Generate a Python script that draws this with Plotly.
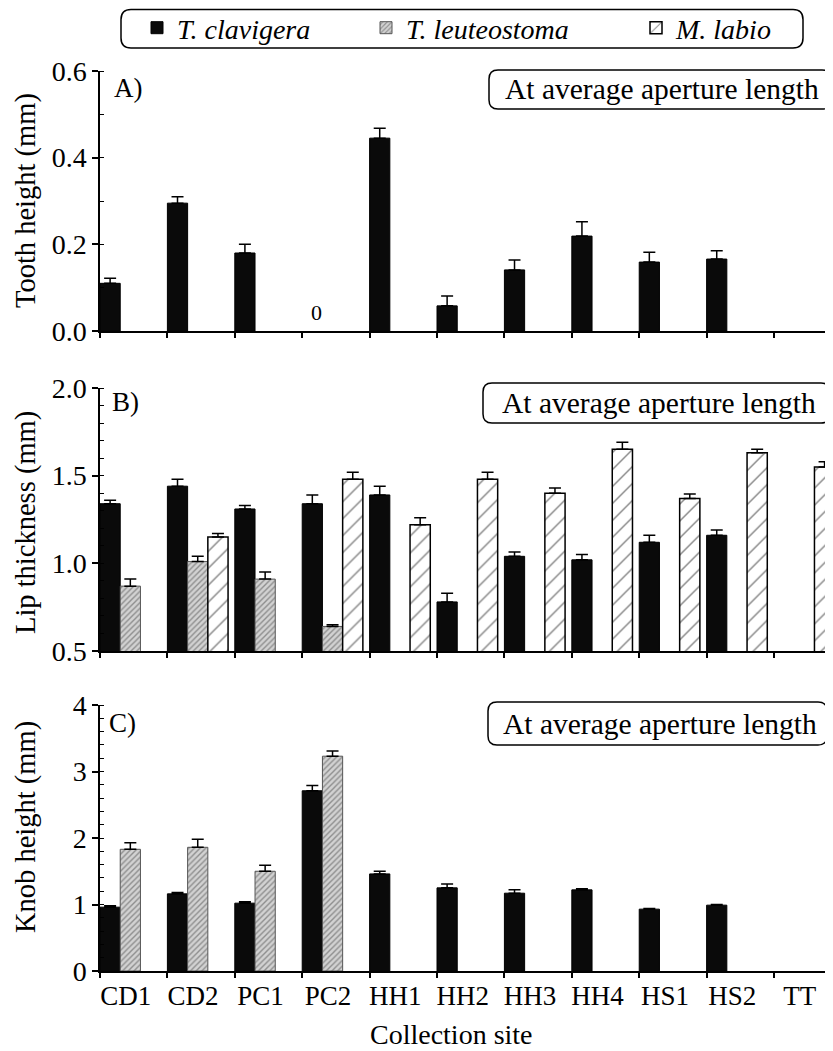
import plotly.graph_objects as go

# The page body has an 8px margin, so the figure is drawn 8px in from the
# window's top-left corner; all layout positions below are given in window
# pixels and converted.
OFF = 8
W, H = 833 - OFF, 1051 - OFF

sites = ["CD1", "CD2", "PC1", "PC2", "HH1", "HH2", "HH3", "HH4", "HS1", "HS2", "TT"]

# Panel A: tooth height (mm) - only T. clavigera
tooth_clav = [0.11, 0.295, 0.18, None, 0.445, 0.058, 0.141, 0.219, 0.159, 0.166, None]
tooth_clav_err = [0.012, 0.015, 0.02, 0, 0.023, 0.023, 0.023, 0.033, 0.023, 0.019, 0]

# Panel B: lip thickness (mm)
lip_clav = [1.34, 1.44, 1.31, 1.34, 1.39, 0.78, 1.04, 1.02, 1.12, 1.16, None]
lip_clav_err = [0.02, 0.04, 0.02, 0.05, 0.05, 0.05, 0.025, 0.03, 0.04, 0.03, 0]
lip_leut = [0.87, 1.01, 0.91, 0.64, None, None, None, None, None, None, None]
lip_leut_err = [0.04, 0.03, 0.04, 0.01, 0, 0, 0, 0, 0, 0, 0]
lip_labio = [None, 1.15, None, 1.48, 1.22, 1.48, 1.40, 1.65, 1.37, 1.63, 1.55]
lip_labio_err = [0, 0.02, 0, 0.04, 0.04, 0.04, 0.03, 0.04, 0.025, 0.02, 0.03]

# Panel C: knob height (mm)
knob_clav = [0.96, 1.16, 1.02, 2.71, 1.46, 1.25, 1.17, 1.22, 0.93, 0.99, None]
knob_clav_err = [0.02, 0.02, 0.02, 0.08, 0.04, 0.06, 0.05, 0.015, 0.01, 0.01, 0]
knob_leut = [1.83, 1.86, 1.50, 3.23, None, None, None, None, None, None, None]
knob_leut_err = [0.10, 0.12, 0.09, 0.08, 0, 0, 0, 0, 0, 0, 0]

species = ["T. clavigera", "T. leuteostoma", "M. labio"]
panel_labels = ["A)", "B)", "C)"]
y_titles = ["Tooth height (mm)", "Lip thickness (mm)", "Knob height (mm)"]
box_text = "At average aperture length"
x_title = "Collection site"

FONT = "Liberation Serif"

def px(x):
    return (x - OFF) / W

def py(y):
    return 1 - (y - OFF) / H

STYLE = {
    0: dict(offset=-0.5,
            marker=dict(color="#0a0a0a", line=dict(color="#000000", width=1))),
    1: dict(offset=-0.2,
            marker=dict(color="#cfcfcf",
                        pattern=dict(shape="/", fgcolor="#4a4a4a", bgcolor="#d2d2d2",
                                     size=4, solidity=0.35),
                        line=dict(color="#555555", width=1))),
    2: dict(offset=0.1,
            marker=dict(color="white",
                        pattern=dict(shape="/", fgcolor="#111111", bgcolor="white",
                                     size=12, solidity=0.12),
                        line=dict(color="#000000", width=1.5))),
}
LEGENDS = ["legend", "legend2", "legend3"]

fig = go.Figure()

def add_bar(vals, errs, sp, xa, ya, showlegend):
    st = STYLE[sp]
    fig.add_trace(go.Bar(
        x=sites, y=vals, name=species[sp], legendgroup=species[sp],
        legend=LEGENDS[sp],
        showlegend=showlegend, xaxis=xa, yaxis=ya,
        width=0.3, offset=st["offset"], marker=st["marker"],
        error_y=dict(type="data", array=errs, arrayminus=[0] * len(errs),
                     symmetric=False, color="black", thickness=1.5, width=6),
    ))

add_bar(lip_clav, lip_clav_err, 0, "x2", "y2", True)
add_bar(lip_leut, lip_leut_err, 1, "x2", "y2", True)
add_bar(lip_labio, lip_labio_err, 2, "x2", "y2", True)
add_bar(tooth_clav, tooth_clav_err, 0, "x", "y", False)
add_bar(knob_clav, knob_clav_err, 0, "x3", "y3", False)
add_bar(knob_leut, knob_leut_err, 1, "x3", "y3", False)

# panel pixel extents (top, bottom) in window pixels
panels = [(71, 331), (388, 651), (705, 971)]
yranges = [[0, 0.6], [0.5, 2.0], [0, 4]]
ytickvals = [[0, 0.2, 0.4, 0.6], [0.5, 1.0, 1.5, 2.0], [0, 1, 2, 3, 4]]
yformats = [".1f", ".1f", "d"]
yminor = [0.1, 0.1, 0.2]

layout = dict(
    width=W, height=H,
    margin=dict(l=0, r=0, t=0, b=0, autoexpand=False),
    paper_bgcolor="white", plot_bgcolor="white",
    barmode="overlay",
    font=dict(family=FONT, color="black", size=26),
    showlegend=True,
)
legend_x = [137, 366, 636]
for k, lg in enumerate(LEGENDS):
    layout[lg] = dict(orientation="h", x=px(legend_x[k]), y=py(28),
                      xanchor="left", yanchor="middle",
                      font=dict(family=FONT, size=28, style="italic", color="black"),
                      bgcolor="rgba(0,0,0,0)", borderwidth=0)

for i in range(3):
    sfx = "" if i == 0 else str(i + 1)
    top, bot = panels[i]
    layout["xaxis" + sfx] = dict(
        type="category", categoryorder="array", categoryarray=sites,
        range=[-0.5, 10.375], domain=[px(100), 1], anchor="y" + sfx,
        showline=True, linecolor="black", linewidth=1.5,
        ticks="outside", ticklen=5, tickwidth=1.5, tickcolor="black",
        tickson="boundaries", showgrid=False, zeroline=False,
        showticklabels=(i == 2), automargin=False,
        tickfont=dict(family=FONT, size=27, color="black"),
        ticklabelshift=-8,
    )
    layout["yaxis" + sfx] = dict(
        domain=[py(bot), py(top)], anchor="x" + sfx, range=yranges[i],
        tickvals=ytickvals[i], tickformat=yformats[i],
        showline=True, linecolor="black", linewidth=1.5,
        ticks="outside", ticklen=6, tickwidth=1.5, tickcolor="black",
        minor=dict(dtick=yminor[i], ticks="inside", ticklen=4, tickwidth=1, tickcolor="black"),
        showgrid=False, zeroline=False, automargin=False,
        tickfont=dict(family=FONT, size=28, color="black"),
    )

fig.update_layout(**layout)

def rounded_path(x0, y0, x1, y1, r):
    rx, ry = r / W, r / H
    X0, X1 = px(x0), px(x1)
    Y0, Y1 = py(y0), py(y1)  # Y0 top (larger), Y1 bottom
    return (f"M {X0+rx},{Y0} L {X1-rx},{Y0} Q {X1},{Y0} {X1},{Y0-ry} "
            f"L {X1},{Y1+ry} Q {X1},{Y1} {X1-rx},{Y1} "
            f"L {X0+rx},{Y1} Q {X0},{Y1} {X0},{Y1+ry} "
            f"L {X0},{Y0-ry} Q {X0},{Y0} {X0+rx},{Y0} Z")

shapes = []
shapes.append(dict(type="path", xref="paper", yref="paper",
                   path=rounded_path(121, 9.5, 803, 48, 10),
                   line=dict(color="black", width=1.5), fillcolor="rgba(0,0,0,0)"))
boxes = [(489, 70, 831, 109), (483, 383, 830, 423), (488, 702, 827, 745)]
for b in boxes:
    shapes.append(dict(type="path", xref="paper", yref="paper",
                       path=rounded_path(*b, 9),
                       line=dict(color="black", width=1.5), fillcolor="rgba(0,0,0,0)"))
fig.update_layout(shapes=shapes)

annotations = []
label_pos = [(112, 88), (110, 402), (107, 723)]
title_pos = [(26, 201), (26, 523), (26, 827)]
for i in range(3):
    annotations.append(dict(xref="paper", yref="paper", x=px(label_pos[i][0]), y=py(label_pos[i][1]),
                            text=panel_labels[i], showarrow=False, xanchor="left", yanchor="middle",
                            font=dict(family=FONT, size=27, color="black")))
    annotations.append(dict(xref="paper", yref="paper", x=px(title_pos[i][0]), y=py(title_pos[i][1]),
                            text=y_titles[i], showarrow=False, textangle=-90,
                            xanchor="center", yanchor="middle",
                            font=dict(family=FONT, size=28.5, color="black")))
    bx0, by0, bx1, by1 = boxes[i]
    annotations.append(dict(xref="paper", yref="paper", x=px((bx0 + bx1) / 2 + 2), y=py((by0 + by1) / 2),
                            text=box_text, showarrow=False, xanchor="center", yanchor="middle",
                            font=dict(family=FONT, size=29.5, color="black")))
annotations.append(dict(xref="paper", yref="paper", x=px(451), y=py(1034),
                        text=x_title, showarrow=False, xanchor="center", yanchor="middle",
                        font=dict(family=FONT, size=28, color="black")))
annotations.append(dict(xref="x", yref="y", x="PC2", y=0, text="0", showarrow=False,
                        xshift=-19, yshift=4, yanchor="bottom",
                        font=dict(family=FONT, size=22, color="black")))
fig.update_layout(annotations=annotations)

fig.write_html("out.html")
